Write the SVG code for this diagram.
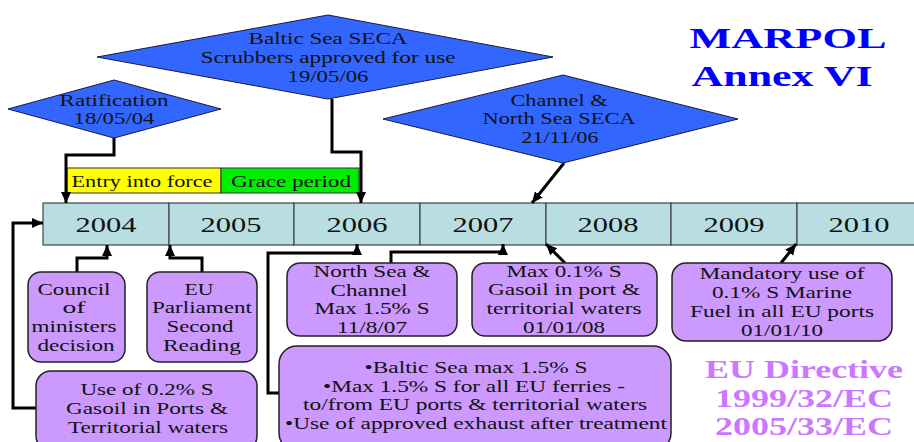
<svg xmlns="http://www.w3.org/2000/svg" width="914" height="442" viewBox="0 0 914 442">
<style>
.t{font-family:"Liberation Serif","Times New Roman",serif;font-size:17px;fill:#111;text-anchor:middle}
.yr{font-family:"Liberation Serif","Times New Roman",serif;font-size:21px;fill:#111;text-anchor:middle}
.dia{fill:#3366ff;stroke:#1a1a40;stroke-width:1}
.box{fill:#cc99ff;stroke:#222;stroke-width:1.5}
.cell{fill:#b8dee2;stroke:#444;stroke-width:1.2}
.con{fill:none;stroke:#000;stroke-width:3;marker-end:url(#ah)}
.title{font-family:"Liberation Serif","Times New Roman",serif;font-weight:bold;font-size:30px;fill:#0000ff;text-anchor:middle}
.dir{font-family:"Liberation Serif","Times New Roman",serif;font-weight:bold;font-size:25px;fill:#cc77ff;text-anchor:middle}
</style>
<defs>
<marker id="ah" markerUnits="userSpaceOnUse" markerWidth="12" markerHeight="12" viewBox="0 0 12 12" refX="11" refY="6" orient="auto">
<path d="M0,1 L11,6 L0,11 Z" fill="#000"/>
</marker>
</defs>
<rect width="914" height="442" fill="#fff"/>

<g id="timeline">
<rect class="cell" x="43" y="203" width="126" height="42"/>
<rect class="cell" x="169" y="203" width="125" height="42"/>
<rect class="cell" x="294" y="203" width="126" height="42"/>
<rect class="cell" x="420" y="203" width="126" height="42"/>
<rect class="cell" x="546" y="203" width="125" height="42"/>
<rect class="cell" x="671" y="203" width="126" height="42"/>
<rect class="cell" x="797" y="203" width="126" height="42"/>
<text class="yr" x="106" y="232" textLength="61" lengthAdjust="spacingAndGlyphs">2004</text>
<text class="yr" x="231" y="232" textLength="61" lengthAdjust="spacingAndGlyphs">2005</text>
<text class="yr" x="357" y="232" textLength="61" lengthAdjust="spacingAndGlyphs">2006</text>
<text class="yr" x="483" y="232" textLength="61" lengthAdjust="spacingAndGlyphs">2007</text>
<text class="yr" x="608" y="232" textLength="61" lengthAdjust="spacingAndGlyphs">2008</text>
<text class="yr" x="734" y="232" textLength="61" lengthAdjust="spacingAndGlyphs">2009</text>
<text class="yr" x="859" y="232" textLength="61" lengthAdjust="spacingAndGlyphs">2010</text>
</g>

<g id="periods">
<rect x="67" y="168" width="154" height="25" fill="#ffff00" stroke="#333" stroke-width="1"/>
<rect x="221" y="168" width="138" height="25" fill="#00ee00" stroke="#333" stroke-width="1"/>
<text class="t" x="142" y="187" font-size="16" textLength="141" lengthAdjust="spacingAndGlyphs">Entry into force</text>
<text class="t" x="291" y="187" font-size="16" textLength="120" lengthAdjust="spacingAndGlyphs">Grace period</text>
</g>

<g id="connectors">
<path class="con" d="M114,138 V155 H66 V203"/>
<path class="con" d="M332,99 V152 H361 V203"/>
<path class="con" d="M564,163 L532,203"/>
<path class="con" d="M37,408 H13 V223 H43"/>
<path class="con" d="M77,272 V258 H107 V245"/>
<path class="con" d="M202,272 V258 H170 V245"/>
<path class="con" d="M391,263 V252 H503 V244"/>
<path class="con" d="M279,393 H268 V253 H357 V244"/>
<path class="con" d="M565,263 L546,244"/>
<path class="con" d="M781,263 L796,244"/>
</g>

<g id="ratification">
<polygon class="dia" points="8,109 114,80 221,109 114,138"/>
<text class="t" x="114" y="106" textLength="109" lengthAdjust="spacingAndGlyphs">Ratification</text>
<text class="t" x="114" y="124" textLength="81" lengthAdjust="spacingAndGlyphs">18/05/04</text>
</g>

<g id="baltic-seca">
<polygon class="dia" points="97,57 328,15 553,57 328,99"/>
<text class="t" x="328" y="44" textLength="159" lengthAdjust="spacingAndGlyphs">Baltic Sea SECA</text>
<text class="t" x="328" y="63" textLength="255" lengthAdjust="spacingAndGlyphs">Scrubbers approved for use</text>
<text class="t" x="328" y="82" textLength="81" lengthAdjust="spacingAndGlyphs">19/05/06</text>
</g>

<g id="channel-seca">
<polygon class="dia" points="383,119 563,75 738,119 563,163"/>
<text class="t" x="559" y="106" textLength="97" lengthAdjust="spacingAndGlyphs">Channel &amp;</text>
<text class="t" x="559" y="124" textLength="153" lengthAdjust="spacingAndGlyphs">North Sea SECA</text>
<text class="t" x="560" y="143" textLength="77" lengthAdjust="spacingAndGlyphs">21/11/06</text>
</g>

<g id="council">
<rect class="box" x="28" y="272" width="97" height="90" rx="13"/>
<text class="t" x="74" y="295" textLength="73" lengthAdjust="spacingAndGlyphs">Council</text>
<text class="t" x="74" y="313" textLength="23" lengthAdjust="spacingAndGlyphs">of</text>
<text class="t" x="74" y="332" textLength="85" lengthAdjust="spacingAndGlyphs">ministers</text>
<text class="t" x="76" y="351" textLength="77" lengthAdjust="spacingAndGlyphs">decision</text>
</g>

<g id="eu-parliament">
<rect class="box" x="147" y="272" width="110" height="90" rx="13"/>
<text class="t" x="199" y="295" textLength="29" lengthAdjust="spacingAndGlyphs">EU</text>
<text class="t" x="202" y="313" textLength="100" lengthAdjust="spacingAndGlyphs">Parliament</text>
<text class="t" x="200" y="332" textLength="67" lengthAdjust="spacingAndGlyphs">Second</text>
<text class="t" x="202" y="351" textLength="78" lengthAdjust="spacingAndGlyphs">Reading</text>
</g>

<g id="gasoil-02">
<rect class="box" x="36" y="371" width="221" height="80" rx="15"/>
<text class="t" x="147" y="395" textLength="133" lengthAdjust="spacingAndGlyphs">Use of 0.2% S</text>
<text class="t" x="147" y="414" textLength="162" lengthAdjust="spacingAndGlyphs">Gasoil in Ports &amp;</text>
<text class="t" x="148" y="433" textLength="160" lengthAdjust="spacingAndGlyphs">Territorial waters</text>
</g>

<g id="north-sea">
<rect class="box" x="287" y="263" width="170" height="73" rx="13"/>
<text class="t" x="372" y="277" textLength="117" lengthAdjust="spacingAndGlyphs">North Sea &amp;</text>
<text class="t" x="369" y="296" textLength="77" lengthAdjust="spacingAndGlyphs">Channel</text>
<text class="t" x="372" y="314" textLength="115" lengthAdjust="spacingAndGlyphs">Max 1.5% S</text>
<text class="t" x="372" y="333" textLength="70" lengthAdjust="spacingAndGlyphs">11/8/07</text>
</g>

<g id="baltic-rules">
<rect class="box" x="279" y="346" width="392" height="105" rx="18"/>
<text class="t" x="476" y="373" textLength="223" lengthAdjust="spacingAndGlyphs">•Baltic Sea max 1.5% S</text>
<text class="t" x="474" y="392" textLength="302" lengthAdjust="spacingAndGlyphs">•Max 1.5% S for all EU ferries -</text>
<text class="t" x="475" y="410" textLength="344" lengthAdjust="spacingAndGlyphs">to/from EU ports &amp; territorial waters</text>
<text class="t" x="476" y="429" textLength="382" lengthAdjust="spacingAndGlyphs">•Use of approved exhaust after treatment</text>
</g>

<g id="max-01">
<rect class="box" x="472" y="263" width="185" height="73" rx="13"/>
<text class="t" x="564" y="277" textLength="115" lengthAdjust="spacingAndGlyphs">Max 0.1% S</text>
<text class="t" x="564" y="295" textLength="152" lengthAdjust="spacingAndGlyphs">Gasoil in port &amp;</text>
<text class="t" x="564" y="314" textLength="155" lengthAdjust="spacingAndGlyphs">territorial waters</text>
<text class="t" x="564" y="333" textLength="82" lengthAdjust="spacingAndGlyphs">01/01/08</text>
</g>

<g id="mandatory">
<rect class="box" x="672" y="263" width="220" height="78" rx="14"/>
<text class="t" x="782" y="279" textLength="165" lengthAdjust="spacingAndGlyphs">Mandatory use of</text>
<text class="t" x="782" y="298" textLength="140" lengthAdjust="spacingAndGlyphs">0.1% S Marine</text>
<text class="t" x="782" y="317" textLength="184" lengthAdjust="spacingAndGlyphs">Fuel in all EU ports</text>
<text class="t" x="782" y="336" textLength="82" lengthAdjust="spacingAndGlyphs">01/01/10</text>
</g>

<g id="marpol-title">
<text class="title" x="788" y="48" textLength="197" lengthAdjust="spacingAndGlyphs">MARPOL</text>
<text class="title" x="782" y="86" textLength="181" lengthAdjust="spacingAndGlyphs">Annex VI</text>
</g>

<g id="eu-directive">
<text class="dir" x="804" y="378" textLength="198" lengthAdjust="spacingAndGlyphs">EU Directive</text>
<text class="dir" x="804" y="407" textLength="178" lengthAdjust="spacingAndGlyphs">1999/32/EC</text>
<text class="dir" x="804" y="435" textLength="178" lengthAdjust="spacingAndGlyphs">2005/33/EC</text>
</g>
</svg>
